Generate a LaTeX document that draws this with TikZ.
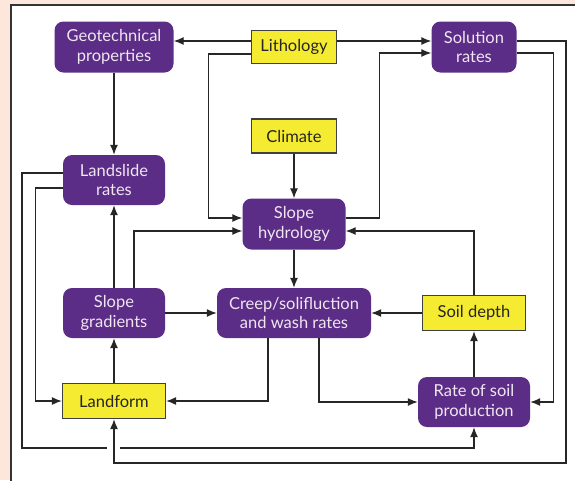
\documentclass[tikz,border=0pt]{standalone}
\usepackage{fontspec}
\setmainfont{Lato}
\usetikzlibrary{arrows.meta,calc,positioning}
\definecolor{bgpink}{HTML}{FDE6DC}
\definecolor{boxpurple}{HTML}{5C2D86}
\definecolor{boxyellow}{HTML}{F5EB30}
\definecolor{txtlav}{HTML}{EFE6F2}
\tikzset{
  proc/.style={fill=boxpurple, text=txtlav, rounded corners=9pt, align=center,
    inner sep=1pt, font=\fontsize{16.5}{19.5}\selectfont},
  ctrl/.style={fill=boxyellow, draw=black!75, line width=1.2pt, text=black!85,
    align=center, inner sep=1pt, font=\fontsize{16.5}{19.5}\selectfont},
  arr/.style={-{Latex[length=10pt,width=8pt]}, line width=1.3pt, draw=black!85},
  ln/.style={line width=1.3pt, draw=black!85}
}
\begin{document}
\begin{tikzpicture}[x=1pt, y=-1pt]
\useasboundingbox (0,0) rectangle (575,480);
% background and panel
\fill[bgpink] (0,0) rectangle (575,480);
\draw[fill=white, line width=1.1pt, draw=black!80] (11,5) rectangle (590,495);
% top row
\node[proc, minimum width=119, minimum height=51] (geo) at (114,47) {Geotechnical\\properties};
\node[ctrl, minimum width=85, minimum height=33] (lith) at (294,47) {Lithology};
\node[proc, minimum width=85, minimum height=51] (sol) at (474,47) {Solution\\rates};
% middle
\node[ctrl, minimum width=85, minimum height=34] (clim) at (294,136) {Climate};
\node[proc, minimum width=102, minimum height=50] (slide) at (114,180) {Landslide\\rates};
\node[proc, minimum width=103, minimum height=51] (hyd) at (294,224) {Slope\\hydrology};
\node[proc, minimum width=102, minimum height=50] (grad) at (114,313) {Slope\\gradients};
\node[proc, minimum width=154, minimum height=50] (creep) at (294,313) {Creep/solifluction\\and wash rates};
\node[ctrl, minimum width=103, minimum height=35] (soil) at (474,313) {Soil depth};
% bottom row
\node[ctrl, minimum width=103, minimum height=35] (land) at (114,401) {Landform};
\node[proc, minimum width=112, minimum height=50] (prod) at (474,402) {Rate of soil\\production};
% corners of the long return lines
\coordinate (gapL) at (107,448);
\coordinate (gapR) at (120,448);
\coordinate (rimL) at (22,448);
\coordinate (rimR) at (566,463);
% lithology
\draw[arr] ([yshift=6pt]lith.west) -- ([yshift=6pt]geo.east);
\draw[arr] ([yshift=6pt]lith.east) -- ([yshift=6pt]sol.west);
\draw[arr] ([yshift=-7pt]lith.west) -- ++(-42.5,0) |- ([yshift=6pt]hyd.west);
% slope hydrology
\draw[arr] ([yshift=6pt]hyd.east) -- ++(33.5,0) |- ([yshift=-6pt]sol.west);
\draw[arr] (clim.south) -- (hyd.north);
\draw[arr] (hyd.south) -- (creep.north);
% left column
\draw[arr] (geo.south) -- (slide.north);
\draw[arr] (grad.north) -- (slide.south);
\draw[arr] (land.north) -- (grad.south);
\draw[arr] ([xshift=20pt]grad.north) |- ([yshift=-7pt]hyd.west);
\draw[arr] (grad.east) -- (creep.west);
% soil
\draw[arr] (soil.west) -- (creep.east);
\draw[arr] (soil.north) |- ([yshift=-7pt]hyd.east);
\draw[arr] (prod.north) -- (soil.south);
% creep outputs
\draw[arr] ([xshift=-26pt]creep.south) |- (land.east);
\draw[arr] ([xshift=25pt]creep.south) |- (prod.west);
% landslide outputs
\draw[arr] ([yshift=-8pt]slide.west) -- ++(-27,0) |- (land.west);
\draw[ln] ([yshift=7pt]slide.west) -| (rimL) -- (gapL);
\draw[arr] (gapR) -| (prod.south);
% solution rates outputs
\draw[arr] ([yshift=6pt]sol.east) -| (rimR) -| (land.south);
\draw[arr] ([yshift=-6pt]sol.east) -- ++(36.5,0) |- (prod.east);
\end{tikzpicture}
\end{document}
